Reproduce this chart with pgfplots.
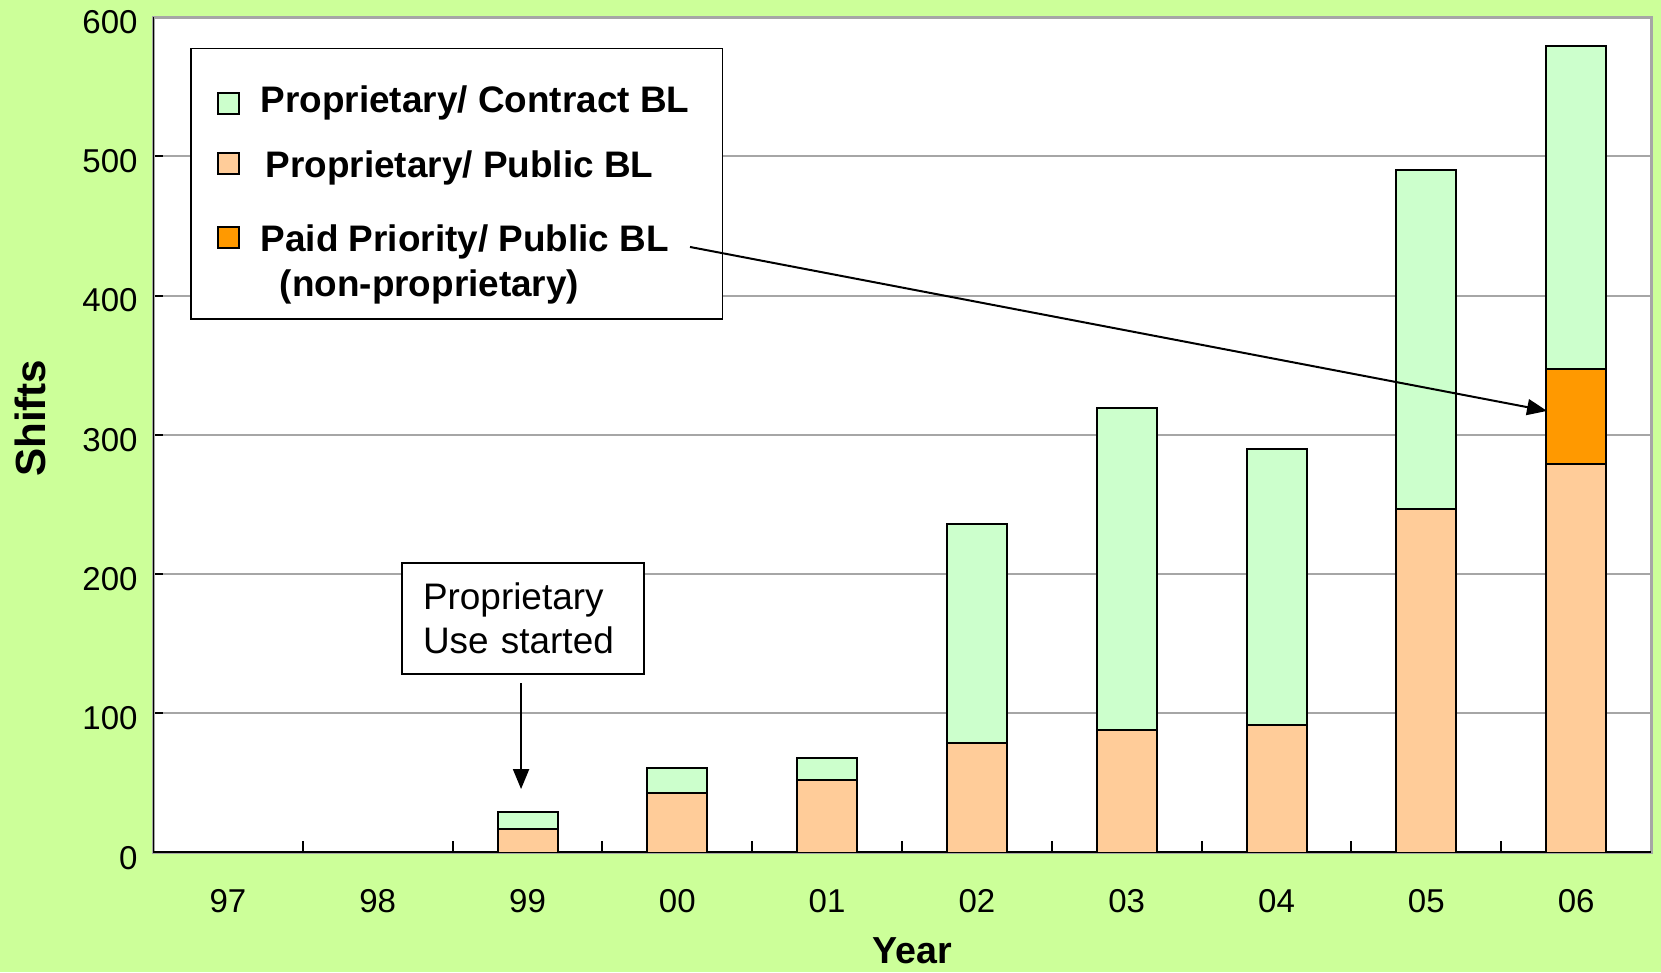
\documentclass[border=0pt]{standalone}
\usepackage{pgfplots}
\pgfplotsset{compat=1.18}
\usepackage{fontspec}
\setmainfont{Liberation Sans}
\usetikzlibrary{arrows.meta}
\definecolor{bggreen}{HTML}{CCFF99}
\definecolor{contract}{HTML}{CCFFCC}
\definecolor{public}{HTML}{FFCC99}
\definecolor{priority}{HTML}{FF9900}
\begin{document}
\begin{tikzpicture}[x=1mm,y=1mm]
\fill[bggreen] (0,0) rectangle (166.1,97.2);
\useasboundingbox (0,0) rectangle (166.1,97.2);
\begin{axis}[
  at={(15.3mm,11.93mm)}, anchor=south west,
  scale only axis, width=149.8mm, height=83.57mm,
  xmin=-0.5, xmax=9.5, ymin=0, ymax=600,
  enlargelimits=false,
  ybar stacked, bar width=6mm,
  xtick={0,...,9}, xticklabels={97,98,99,00,01,02,03,04,05,06},
  major x tick style={draw=none},
  minor xtick={0.5,1.5,2.5,3.5,4.5,5.5,6.5,7.5,8.5,9.5},
  minor tick length=1.2mm,
  ytick={0,100,...,600},
  tick pos=left,
  ymajorgrids, major grid style={gray!70, line width=0.2mm},
  major tick length=1mm,
  tick style={black, line width=0.2mm},
  axis background/.style={fill=white},
  axis line style={gray!70, line width=0.3mm},
  tick label style={font=\fontsize{9.4}{11}\selectfont},
  /pgf/number format/assume math mode=true,
  xticklabel style={yshift=-2.4mm},
  yticklabel style={xshift=-0.3mm, yshift=-0.5mm},
  ylabel={Shifts},
  ylabel style={at={(axis description cs:-0.0821,0.52)}, anchor=center, font=\bfseries\fontsize{12}{14}\selectfont},
  xlabel={Year},
  xlabel style={at={(axis description cs:0.507,-0.1176)}, anchor=center, font=\bfseries\fontsize{10.7}{12}\selectfont},
  legend image code/.code={\draw[#1, draw=black, line width=0.2mm] (0mm,-0.7mm) rectangle (2.1mm,1.4mm);},
  legend style={at={(axis description cs:0.0247,0.963)}, anchor=north west, draw=black, line width=0.15mm, fill=white,
    font=\bfseries\fontsize{10.5}{13}\selectfont, row sep=1.9mm, column sep=1.4mm, inner xsep=2.6mm, inner ysep=1mm,
    cells={anchor=base west, align=left}},
  legend cell align=left,
]
\addlegendimage{fill=contract, yshift=-1.5mm}
\addlegendentry{\rule{0pt}{4.7mm}Proprietary/ Contract BL}
\addlegendimage{fill=public}
\addlegendentry{\hspace*{0.5mm}Proprietary/ Public BL}
\addlegendimage{fill=priority, yshift=1.85mm}
\addlegendentry{\rule{0pt}{3.5mm}Paid Priority/ Public BL\\\hspace*{1.9mm}(non-proprietary)}

\addplot[fill=public, draw=black, line width=0.2mm, forget plot] coordinates
  {(0,0) (1,0) (2,17) (3,43) (4,52) (5,79) (6,88) (7,92) (8,247) (9,279)};
\addplot[fill=priority, draw=black, line width=0.2mm, forget plot] coordinates
  {(0,0) (1,0) (2,0) (3,0) (4,0) (5,0) (6,0) (7,0) (8,0) (9,68)};
\addplot[fill=contract, draw=black, line width=0.2mm, forget plot] coordinates
  {(0,0) (1,0) (2,12) (3,18) (4,16) (5,157) (6,231) (7,198) (8,243) (9,232)};

\draw[black, line width=0.25mm] (rel axis cs:0,0) -- (rel axis cs:1,0);
\draw[black, line width=0.25mm] (rel axis cs:0,0) -- (rel axis cs:0,1);
\node[draw=black, fill=white, line width=0.2mm, anchor=north west, text width=20mm, inner xsep=2.1mm,
  minimum height=11.1mm, align=left, font=\fontsize{10.5}{12.3}\selectfont]
  at (axis cs:1.156,208.8) {Proprietary\\Use started};
\draw[-{Triangle[length=2mm,width=1.6mm]}, line width=0.2mm] (axis cs:1.957,121.8) -- (axis cs:1.957,45.7);
\coordinate (A1) at (axis cs:3.085,434.9);
\coordinate (A2) at (axis cs:8.806,317.2);
\end{axis}
\draw[-{Triangle[length=2mm,width=1.6mm]}, line width=0.2mm] (A1) -- (A2);
\end{tikzpicture}
\end{document}
